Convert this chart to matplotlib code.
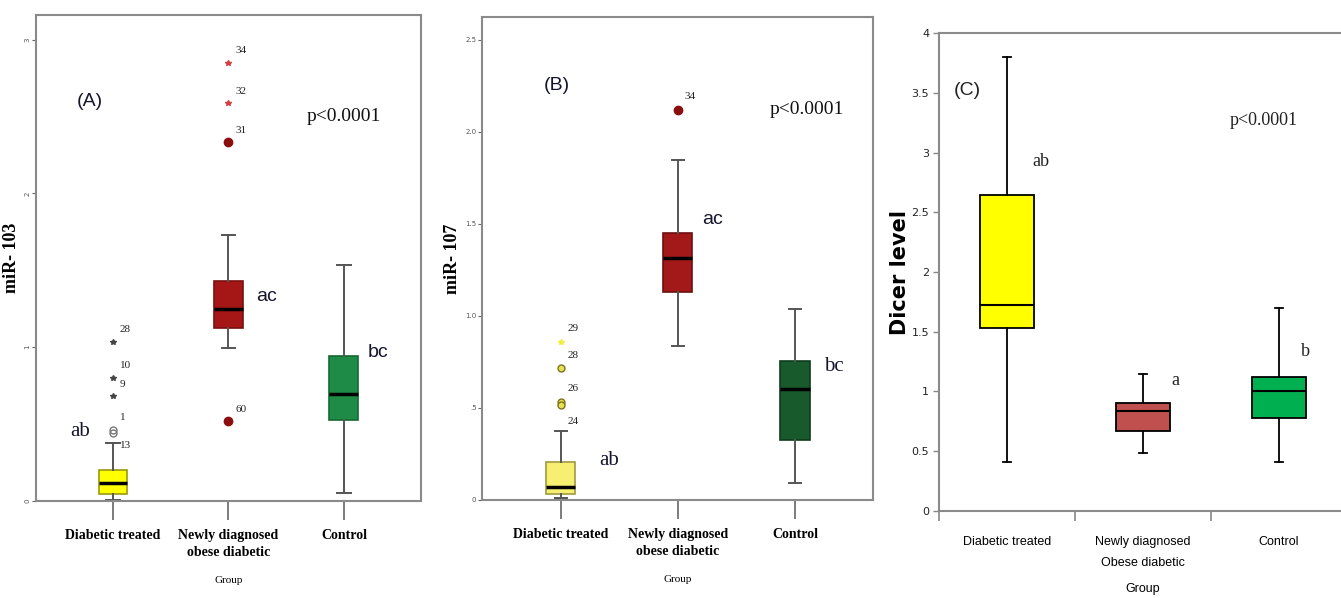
import numpy as np
import matplotlib
matplotlib.use("Agg")
import matplotlib.pyplot as plt

# ---- data ----------------------------------------------------------------
groups_ab = ['Diabetic treated', 'Newly diagnosed\nobese diabetic', 'Control']
groups_c  = ['Diabetic treated', 'Newly diagnosed\nObese diabetic', 'Control']

# (A) miR-103
A_med = [0.12, 1.247, 0.695]
A_q1  = [0.045, 1.128, 0.526]
A_q3  = [0.20, 1.43, 0.94]
A_lo  = [0.005, 0.994, 0.054]
A_hi  = [0.375, 1.727, 1.532]
A_out_grp  = [1, 1, 1, 1, 1, 2, 2, 2, 2]
A_out_val  = [1.035, 0.80, 0.68, 0.463, 0.44, 2.85, 2.585, 2.333, 0.52]
A_out_id   = ['28', '10', '9', '1', '13', '34', '32', '31', '60']
A_out_kind = ['*', '*', '*', 'o', 'o', '*', '*', 'o', 'o']
A_letters  = ['ab', 'ac', 'bc']

# (B) miR-107
B_med = [0.072, 1.313, 0.605]
B_q1  = [0.033, 1.129, 0.326]
B_q3  = [0.205, 1.449, 0.755]
B_lo  = [0.01, 0.839, 0.09]
B_hi  = [0.377, 1.848, 1.036]
B_out_grp  = [1, 1, 1, 1, 2]
B_out_val  = [0.86, 0.716, 0.535, 0.515, 2.12]
B_out_id   = ['29', '28', '26', '24', '34']
B_out_kind = ['*', 'o', 'o', 'o', 'o']
B_letters  = ['ab', 'ac', 'bc']

# (C) Dicer level
C_med = [1.724, 0.839, 1.004]
C_q1  = [1.534, 0.669, 0.778]
C_q3  = [2.644, 0.90, 1.124]
C_lo  = [0.407, 0.488, 0.407]
C_hi  = [3.797, 1.146, 1.699]
C_letters = ['ab', 'a', 'b']

# ---- helpers -------------------------------------------------------------
def stats(med, q1, q3, lo, hi):
    return [dict(med=med[i], q1=q1[i], q3=q3[i], whislo=lo[i], whishi=hi[i], fliers=[])
            for i in range(len(med))]

def colour_boxes(bp, fills, edges, lw):
    for b, f, e in zip(bp['boxes'], fills, edges):
        b.set_facecolor(f)
        b.set_edgecolor(e)
        b.set_linewidth(lw)

navy = '#15152e'
serif = ['Liberation Serif', 'DejaVu Serif']
sans = ['Liberation Sans', 'DejaVu Sans']

fig = plt.figure(figsize=(13.41, 5.98), dpi=100)

# ===== panel A ============================================================
ax0 = fig.add_axes([0.0268, 0.1622, 0.2871, 0.8127])
bp = ax0.bxp(stats(A_med, A_q1, A_q3, A_lo, A_hi), positions=[1, 2, 3], widths=0.25,
             patch_artist=True, showfliers=False, capwidths=0.12,
             whiskerprops=dict(color='#555555', lw=1.4),
             capprops=dict(color='#555555', lw=1.4),
             medianprops=dict(color='black', lw=2.5))
colour_boxes(bp, ['#ffff00', '#a51616', '#1e8c46'], ['#9a9a10', '#7a1010', '#156a33'], 1.2)
for g, v, k in zip(A_out_grp, A_out_val, A_out_kind):
    if k == '*':
        c = '#444444' if g == 1 else '#d04040'
        ax0.plot(g, v, marker='*', ms=4, color=c, ls='none')
    else:
        if g == 1:
            ax0.plot(g, v, marker='o', ms=5, mfc='none', mec='#777777', ls='none')
        else:
            ax0.plot(g, v, marker='o', ms=6, color='#8b0d0d', ls='none')
for g, v, t in zip(A_out_grp, A_out_val, A_out_id):
    dy = -12 if t == '13' else 12
    ax0.annotate(t, (g, v), xytext=(7, dy), textcoords='offset pixels',
                 fontsize=8, family=serif, color='#222222', va='center')
ax0.set_xlim(0.333, 3.667)
ax0.set_ylim(0, 3.16)
ax0.set_yticks([0, 1, 2, 3])
ax0.set_yticklabels(['0', '1', '2', '3'], rotation=90, fontsize=5, color='#555555', va='center')
ax0.set_ylabel('miR- 103', fontsize=13, fontweight='bold', family=serif, labelpad=3)
ax0.text(0.714, 0.455, 'ab', fontsize=15, family=serif, color=navy, ha='center', va='center')
ax0.text(2.329, 1.331, 'ac', fontsize=14, family=sans, color=navy, ha='center', va='center')
ax0.text(3.294, 0.968, 'bc', fontsize=14, family=sans, color=navy, ha='center', va='center')
ax0.text(0.80, 2.597, '(A)', fontsize=14, family=sans, color=navy, ha='center', va='center')
ax0.text(3.0, 2.5, 'p<0.0001', fontsize=14, family=serif, color='#111111', ha='center', va='center')

# ===== panel B ============================================================
ax1 = fig.add_axes([0.3594, 0.1639, 0.2916, 0.8077])
bp = ax1.bxp(stats(B_med, B_q1, B_q3, B_lo, B_hi), positions=[1, 2, 3], widths=0.25,
             patch_artist=True, showfliers=False, capwidths=0.1,
             whiskerprops=dict(color='#555555', lw=1.4),
             capprops=dict(color='#555555', lw=1.4),
             medianprops=dict(color='black', lw=2.5))
colour_boxes(bp, ['#f6ef72', '#a31818', '#185a2c'], ['#a09a40', '#6e0f0f', '#0f3d1d'], 1.2)
for g, v, k in zip(B_out_grp, B_out_val, B_out_kind):
    if k == '*':
        ax1.plot(g, v, marker='*', ms=4, color='#f4ec40', ls='none')
    elif g == 1:
        ax1.plot(g, v, marker='o', ms=5, mfc='#e8e050', mec='#7a7520', ls='none')
    else:
        ax1.plot(g, v, marker='o', ms=6, color='#8b0d0d', ls='none')
for g, v, t in zip(B_out_grp, B_out_val, B_out_id):
    dy = -16 if t == '24' else 13
    ax1.annotate(t, (g, v), xytext=(7, dy), textcoords='offset pixels',
                 fontsize=8, family=serif, color='#222222', va='center')
ax1.set_xlim(0.327, 3.667)
ax1.set_ylim(0, 2.625)
ax1.set_yticks([0, 0.5, 1.0, 1.5, 2.0, 2.5])
ax1.set_yticklabels(['0', '.5', '1.0', '1.5', '2.0', '2.5'], fontsize=5, color='#555555')
ax1.set_ylabel('miR- 107', fontsize=13, fontweight='bold', family=serif, labelpad=3)
ax1.text(1.413, 0.217, 'ab', fontsize=15, family=serif, color=navy, ha='center', va='center')
ax1.text(2.293, 1.527, 'ac', fontsize=14, family=sans, color=navy, ha='center', va='center')
ax1.text(3.336, 0.728, 'bc', fontsize=15, family=serif, color=navy, ha='center', va='center')
ax1.text(0.966, 2.255, '(B)', fontsize=14, family=sans, color=navy, ha='center', va='center')
ax1.text(3.10, 2.12, 'p<0.0001', fontsize=14, family=serif, color='#111111', ha='center', va='center')

for ax in (ax0, ax1):
    for s in ax.spines.values():
        s.set_color('#8a8a8a')
        s.set_linewidth(1.5)
    ax.set_xticks([1, 2, 3])
    ax.set_xticklabels(groups_ab, fontsize=10, fontweight='bold', family=serif, linespacing=1.45)
    ax.tick_params(axis='x', length=14, color='#666666', width=1.2, pad=6)
    ax.tick_params(axis='y', length=3, color='#666666', width=0.8, pad=1)
    ax.set_xlabel('Group', fontsize=8, family=serif, labelpad=12)

# ===== panel C ============================================================
ax2 = fig.add_axes([0.7002, 0.1455, 0.3043, 0.7993])
bp = ax2.bxp(stats(C_med, C_q1, C_q3, C_lo, C_hi), positions=[1, 2, 3], widths=0.4,
             patch_artist=True, showfliers=False, capwidths=0.06,
             whiskerprops=dict(color='black', lw=1.3),
             capprops=dict(color='black', lw=1.3),
             medianprops=dict(color='black', lw=1.5))
colour_boxes(bp, ['#ffff00', '#c0504d', '#00b050'], ['black', 'black', 'black'], 1.3)
ax2.set_xlim(0.5, 3.5)
ax2.set_ylim(0, 4)
ax2.set_yticks(np.arange(0, 4.01, 0.5))
ax2.set_yticklabels(['0', '0.5', '1', '1.5', '2', '2.5', '3', '3.5', '4'], fontsize=8, color='#222222')
ax2.set_xticks([0.5, 1.5, 2.5, 3.5])
ax2.set_xticklabels([])
ax2.set_xticks([1, 2, 3], minor=True)
ax2.set_xticklabels(groups_c, minor=True, fontsize=9, family=sans, linespacing=2.0)
ax2.tick_params(axis='x', which='major', length=7, color='#888888', width=1.2)
ax2.tick_params(axis='x', which='minor', length=0, pad=18)
ax2.tick_params(axis='y', length=4, color='#888888', width=1, pad=3)
for s in ax2.spines.values():
    s.set_color('#8a8a8a')
    s.set_linewidth(1.5)
ax2.set_ylabel('Dicer level', fontsize=15, fontweight='bold', family='DejaVu Sans', labelpad=1)
ax2.set_xlabel('Group', fontsize=9, family=sans, labelpad=10)
ax2.text(1.249, 2.923, 'ab', fontsize=13, family=serif, color='#222222', ha='center', va='center')
ax2.text(2.235, 1.090, 'a', fontsize=13, family=serif, color='#222222', ha='center', va='center')
ax2.text(3.194, 1.333, 'b', fontsize=13, family=serif, color='#222222', ha='center', va='center')
ax2.text(0.709, 3.523, '(C)', fontsize=14, family=sans, color='#222222', ha='center', va='center')
ax2.text(2.888, 3.272, 'p<0.0001', fontsize=13, family=serif, color='#222222', ha='center', va='center')

plt.savefig('out.png', dpi=100)
